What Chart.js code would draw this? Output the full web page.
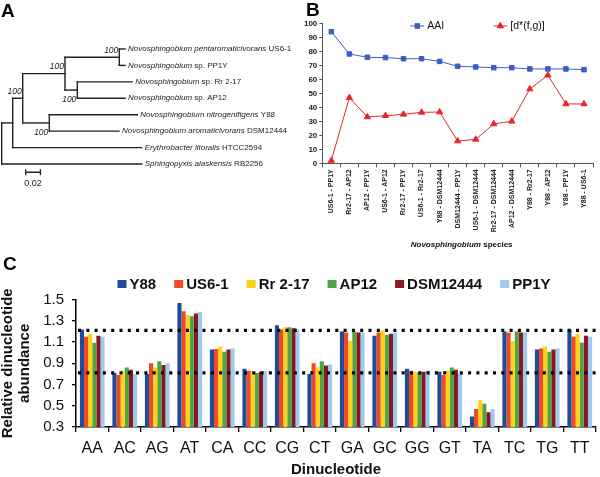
<!DOCTYPE html>
<html>
<head>
<meta charset="utf-8">
<script src="https://cdn.jsdelivr.net/npm/chart.js@4.4.1/dist/chart.umd.min.js"></script>
<style>
  html, body { margin: 0; padding: 0; background: #fff; }
  #wrap { position: relative; width: 600px; height: 477px; overflow: hidden; }
  canvas { position: absolute; }
  #cA { left: 0; top: 0; }
  #cB { left: 290px; top: 0; }
  #cC { left: 0; top: 250px; }
</style>
</head>
<body>
<div id="wrap">
  <canvas id="cA" width="300" height="200"></canvas>
  <canvas id="cB" width="310" height="252"></canvas>
  <canvas id="cC" width="600" height="227"></canvas>
</div>
<script>
// ---- panel A: tree ----
var leafItalic = ["Novosphingobium pentaromaticivorans", "Novosphingobium", "Novosphingobium", "Novosphingobium",
  "Novosphingobium nitrogenifigens", "Novosphingobium aromaticivorans", "Erythrobacter litoralis", "Sphingopyxis alaskensis"];
var leafStrain = ["US6-1", "sp. PP1Y", "sp. Rr 2-17", "sp. AP12", "Y88", "DSM12444", "HTCC2594", "RB2256"];
var leafDist = [0.1678, 0.1678, 0.1777, 0.1678, 0.1845, 0.1596, 0.1905, 0.1905];
var nodeDist = { n4: 0.160, n5: 0.1029, n3: 0.0861, n6: 0.0648, n2: 0.0286, n1: 0.0150, root: 0 };
var nodeKids = { n4: [0, 1], n5: [2, 3], n3: ["n4", "n5"], n6: [4, 5], n2: ["n3", "n6"], n1: ["n2", 6], root: ["n1", 7] };
var bootstrap = { n4: 100, n3: 100, n2: 100, n5: 100, n6: 100 };
var bootBelow = ["n5", "n6"];
var scaleBar = 0.02;

// ---- panel B: AAI vs d* ----
var pairLabels = ["US6-1 - PP1Y", "Rr2-17 - AP12", "AP12 - PP1Y", "US6-1 - AP12", "Rr2-17 - PP1Y", "US6-1 - Rr2-17",
  "Y88 - DSM12444", "DSM12444 - PP1Y", "US6-1 - DSM12444", "Rr2-17 - DSM12444", "AP12 - DSM12444",
  "Y88 - Rr2-17", "Y88 - AP12", "Y88 - PP1Y", "Y88 - US6-1"];
var aaiValues = [94.0, 78.1, 75.7, 75.5, 74.7, 74.7, 72.8, 69.3, 68.8, 68.3, 68.3, 67.4, 67.4, 67.4, 66.9];
var dstarValues = [2.0, 46.9, 33.1, 34.0, 35.0, 36.4, 36.6, 15.9, 17.1, 28.1, 30.0, 53.1, 62.9, 42.4, 42.4];

// ---- panel C: dinucleotide abundance ----
var dinucs = ["AA", "AC", "AG", "AT", "CA", "CC", "CG", "CT", "GA", "GC", "GG", "GT", "TA", "TC", "TG", "TT"];
var strains = ["Y88", "US6-1", "Rr 2-17", "AP12", "DSM12444", "PP1Y"];
var y88    = [1.22, 0.81, 0.80, 1.47, 1.03, 0.85, 1.26, 0.80, 1.20, 1.16, 0.85, 0.82, 0.40, 1.20, 1.03, 1.22];
var us61   = [1.15, 0.79, 0.90, 1.39, 1.035, 0.83, 1.22, 0.90, 1.19, 1.19, 0.83, 0.79, 0.47, 1.19, 1.04, 1.15];
var rr217  = [1.18, 0.83, 0.86, 1.355, 1.06, 0.82, 1.24, 0.86, 1.11, 1.21, 0.82, 0.83, 0.555, 1.11, 1.06, 1.18];
var ap12   = [1.095, 0.86, 0.92, 1.345, 1.01, 0.81, 1.24, 0.92, 1.20, 1.17, 0.81, 0.86, 0.52, 1.20, 1.01, 1.095];
var dsm    = [1.16, 0.84, 0.885, 1.37, 1.03, 0.82, 1.23, 0.88, 1.19, 1.18, 0.82, 0.84, 0.44, 1.19, 1.03, 1.16];
var pp1y   = [1.15, 0.80, 0.90, 1.385, 1.04, 0.825, 1.22, 0.89, 1.19, 1.19, 0.83, 0.805, 0.47, 1.19, 1.04, 1.15];
var bounds = [1.21, 0.81];

var FONT = '"Liberation Sans", Arial, Helvetica, sans-serif';
Chart.defaults.font.family = FONT;
Chart.defaults.color = "#111";

// ================= chart A =================
function nodePos(k) {
  if (typeof k === "number") return { x: leafDist[k], y: k };
  var ys = nodeKids[k].map(function (c) { return nodePos(c).y; });
  return { x: nodeDist[k], y: (Math.min.apply(null, ys) + Math.max.apply(null, ys)) / 2 };
}

var treeSets = [];
Object.keys(nodeKids).forEach(function (k) {
  var p = nodePos(k);
  var kids = nodeKids[k].map(nodePos);
  var ys = kids.map(function (c) { return c.y; });
  treeSets.push([{ x: p.x, y: Math.min.apply(null, ys) }, { x: p.x, y: Math.max.apply(null, ys) }]);
  kids.forEach(function (c) {
    treeSets.push([{ x: p.x, y: c.y }, { x: c.x, y: c.y }]);
  });
});

var treeLabels = {
  id: "treeLabels",
  afterDatasetsDraw: function (chart) {
    var ctx = chart.ctx, xs = chart.scales.x, ys = chart.scales.y;
    ctx.save();
    ctx.fillStyle = "#222";
    ctx.textBaseline = "middle";
    ctx.textAlign = "left";
    for (var i = 0; i < leafItalic.length; i++) {
      var px = xs.getPixelForValue(leafDist[i]) + 3;
      var py = ys.getPixelForValue(i);
      ctx.font = "italic 8px " + FONT;
      ctx.fillText(leafItalic[i], px, py);
      var w = ctx.measureText(leafItalic[i]).width;
      ctx.font = "8px " + FONT;
      ctx.fillText(" " + leafStrain[i], px + w, py);
    }
    // bootstrap values
    ctx.font = "italic 8.5px " + FONT;
    ctx.textAlign = "right";
    Object.keys(bootstrap).forEach(function (k) {
      var p = nodePos(k);
      var px = xs.getPixelForValue(p.x) - 1;
      var py = ys.getPixelForValue(p.y) + (bootBelow.indexOf(k) >= 0 ? 10 : -7);
      ctx.fillText(String(bootstrap[k]), px, py);
    });
    // scale bar
    var x0 = xs.getPixelForValue(0.0327), x1 = xs.getPixelForValue(0.0327 + scaleBar);
    var yb = ys.getPixelForValue(leafDist.length - 0.5);
    ctx.strokeStyle = "#222";
    ctx.lineWidth = 1.3;
    ctx.beginPath();
    ctx.moveTo(x0, yb); ctx.lineTo(x1, yb);
    ctx.moveTo(x0, yb - 3); ctx.lineTo(x0, yb + 3);
    ctx.moveTo(x1, yb - 3); ctx.lineTo(x1, yb + 3);
    ctx.stroke();
    ctx.font = "9px " + FONT;
    ctx.textAlign = "center";
    ctx.fillText(String(scaleBar), (x0 + x1) / 2, yb + 11);
    // panel letter
    ctx.font = "bold 19px " + FONT;
    ctx.textAlign = "left";
    ctx.textBaseline = "alphabetic";
    ctx.fillStyle = "#000";
    ctx.fillText("A", 1, 17);
    ctx.restore();
  }
};

new Chart(document.getElementById("cA"), {
  type: "scatter",
  data: {
    datasets: treeSets.map(function (seg) {
      return { data: seg, showLine: true, pointRadius: 0, borderColor: "#222", borderWidth: 1.4, borderCapStyle: "square" };
    })
  },
  options: {
    responsive: false,
    animation: false,
    events: [],
    layout: { padding: 0 },
    plugins: { legend: { display: false }, tooltip: { enabled: false } },
    scales: {
      x: { type: "linear", display: false, min: -0.0023, max: 0.4058 },
      y: { type: "linear", display: false, reverse: true, min: -2.98, max: 9.19 }
    }
  },
  plugins: [treeLabels]
});

// ================= chart B =================
var extrasB = {
  id: "extrasB",
  afterDraw: function (chart) {
    var ctx = chart.ctx, ca = chart.chartArea;
    ctx.save();
    // legend
    var items = chart.data.datasets;
    var lx = ca.left + 88, ly = 26;
    ctx.textBaseline = "middle";
    ctx.textAlign = "left";
    ctx.font = "10.5px " + FONT;
    items.forEach(function (ds, i) {
      var x = lx + i * 83;
      ctx.strokeStyle = ds.borderColor;
      ctx.lineWidth = 1;
      ctx.beginPath(); ctx.moveTo(x, ly); ctx.lineTo(x + 14, ly); ctx.stroke();
      Chart.helpers.drawPoint(ctx, { pointStyle: ds.pointStyle, radius: ds.pointRadius, borderWidth: 1 }, x + 7, ly);
      ctx.fillStyle = ds.borderColor;
      ctx.fill();
      ctx.fillStyle = "#111";
      ctx.fillText(ds.label, x + 17, ly);
    });
    // axis title
    var cx = (ca.left + ca.right) / 2 + 4, ty = 245;
    ctx.font = "bold italic 8px " + FONT;
    var w1 = ctx.measureText("Novosphingobium").width;
    ctx.font = "bold 8px " + FONT;
    var w2 = ctx.measureText(" species").width;
    var sx = cx - (w1 + w2) / 2;
    ctx.font = "bold italic 8px " + FONT;
    ctx.fillText("Novosphingobium", sx, ty);
    ctx.font = "bold 8px " + FONT;
    ctx.fillText(" species", sx + w1, ty);
    // panel letter
    ctx.font = "bold 19px " + FONT;
    ctx.textBaseline = "alphabetic";
    ctx.fillStyle = "#000";
    ctx.fillText("B", 16, 16);
    ctx.restore();
  }
};

new Chart(document.getElementById("cB"), {
  type: "line",
  data: {
    labels: pairLabels,
    datasets: [
      {
        label: "AAI",
        data: aaiValues,
        borderColor: "#3c5dc6",
        backgroundColor: "#3c5dc6",
        pointStyle: "rect",
        pointRadius: 3.2,
        borderWidth: 1,
        tension: 0
      },
      {
        label: "[d*(f,g)]",
        data: dstarValues,
        borderColor: "#e8262a",
        backgroundColor: "#e8262a",
        pointStyle: "triangle",
        pointRadius: 3.6,
        borderWidth: 1,
        tension: 0
      }
    ]
  },
  options: {
    responsive: false,
    animation: false,
    events: [],
    layout: { padding: { top: 23.3, right: 7, left: 0, bottom: 0 } },
    plugins: { legend: { display: false }, tooltip: { enabled: false } },
    scales: {
      x: {
        offset: true,
        grid: { display: true, offset: true, drawOnChartArea: false, drawTicks: true, tickLength: 4, color: "#555" },
        border: { color: "#555", width: 1 },
        ticks: { autoSkip: false, maxRotation: 90, minRotation: 90, padding: 2, color: "#222",
          font: { size: 7, weight: "bold" } },
        afterFit: function (s) { s.height = 88.7; }
      },
      y: {
        min: 0,
        max: 100,
        grid: { drawOnChartArea: false, drawTicks: true, tickLength: 3, color: "#555" },
        border: { color: "#555", width: 1 },
        ticks: { stepSize: 10, padding: 2, color: "#222", font: { size: 8, weight: "bold" } },
        afterFit: function (s) { s.width = 32.3; }
      }
    }
  },
  plugins: [extrasB]
});

// ================= chart C =================
var colorsC = ["#1f4c9a", "#ef4a24", "#ffd21a", "#4fa444", "#8a1628", "#9ccbee"];
var seriesC = [y88, us61, rr217, ap12, dsm, pp1y];

var extrasC = {
  id: "extrasC",
  afterDatasetsDraw: function (chart) {
    // dotted reference lines at the bound values
    var ctx = chart.ctx, ca = chart.chartArea, ys = chart.scales.y;
    ctx.save();
    ctx.strokeStyle = "#000";
    ctx.lineWidth = 3.2;
    ctx.setLineDash([3, 5.3]);
    bounds.forEach(function (b) {
      var py = ys.getPixelForValue(b);
      ctx.beginPath();
      ctx.moveTo(ca.left + 2, py);
      ctx.lineTo(ca.right, py);
      ctx.stroke();
    });
    ctx.restore();
  },
  afterDraw: function (chart) {
    var ctx = chart.ctx;
    ctx.save();
    ctx.font = "bold 15px " + FONT;
    ctx.textBaseline = "middle";
    ctx.textAlign = "left";
    var box = 9, gap = 3, space = 18;
    var widths = strains.map(function (s) { return box + gap + ctx.measureText(s).width; });
    var total = widths.reduce(function (a, b) { return a + b; }, 0) + space * (strains.length - 1);
    var x = 334 - total / 2, y = 34;
    strains.forEach(function (s, i) {
      ctx.fillStyle = colorsC[i];
      ctx.fillRect(x, y - 4, box, 8);
      ctx.fillStyle = "#111";
      ctx.fillText(s, x + box + gap, y + 0.5);
      x += widths[i] + space;
    });
    ctx.font = "bold 19px " + FONT;
    ctx.textBaseline = "alphabetic";
    ctx.fillStyle = "#000";
    ctx.fillText("C", 3, 20);
    ctx.restore();
  }
};

new Chart(document.getElementById("cC"), {
  type: "bar",
  data: {
    labels: dinucs,
    datasets: seriesC.map(function (vals, i) {
      return {
        label: strains[i],
        data: vals,
        backgroundColor: colorsC[i],
        borderWidth: 0
      };
    })
  },
  options: {
    responsive: false,
    animation: false,
    events: [],
    categoryPercentage: 0.76,
    barPercentage: 1.0,
    layout: { padding: { top: 49.7, right: 4, left: 0, bottom: 0 } },
    plugins: { legend: { display: false }, tooltip: { enabled: false } },
    scales: {
      x: {
        offset: true,
        grid: { display: true, offset: true, drawOnChartArea: false, drawTicks: true, tickLength: 5, color: "#000", lineWidth: 1.3 },
        border: { color: "#000", width: 1.5 },
        ticks: { padding: 7, color: "#111", font: { size: 16 } },
        title: { display: true, text: "Dinucleotide", color: "#111", font: { size: 15, weight: "bold", lineHeight: 1 }, padding: 0 },
        afterFit: function (s) { s.height = 50; }
      },
      y: {
        min: 0.3,
        max: 1.5,
        grid: { drawOnChartArea: false, drawTicks: true, tickLength: 4, color: "#000", lineWidth: 1.3 },
        border: { color: "#000", width: 1.5 },
        ticks: { stepSize: 0.2, padding: 8, color: "#111", font: { size: 15 },
          callback: function (v) { return v.toFixed(1); } },
        title: { display: true, text: ["Relative dinucleotide", "abundance"], color: "#111",
          font: { size: 15, weight: "bold", lineHeight: 1.1 }, padding: 0 },
        afterFit: function (s) { s.width = 76; }
      }
    }
  },
  plugins: [extrasC]
});
</script>
</body>
</html>
